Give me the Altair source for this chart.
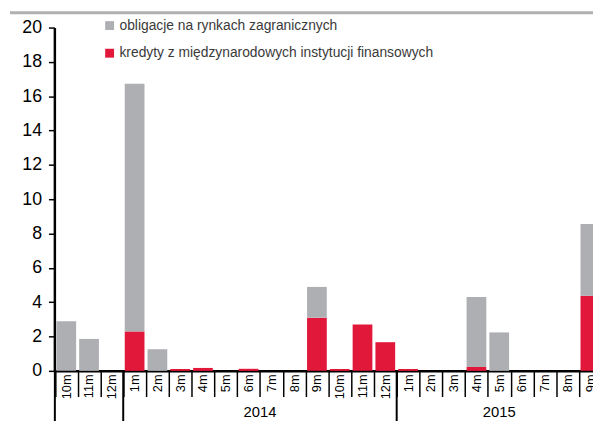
import altair as alt
import pandas as pd

# ---- data ----
months = ["10m", "11m", "12m",
          "1m", "2m", "3m", "4m", "5m", "6m", "7m", "8m", "9m", "10m", "11m", "12m",
          "1m", "2m", "3m", "4m", "5m", "6m", "7m", "8m", "9m"]
years = ["2013"] * 3 + ["2014"] * 12 + ["2015"] * 9
kredyty = [0, 0, 0,
           2.30, 0, 0.11, 0.17, 0, 0.12, 0, 0, 3.10, 0.11, 2.70, 1.67,
           0.11, 0, 0, 0.23, 0, 0, 0, 0, 4.37]
obligacje = [2.89, 1.86, 0,
             14.42, 1.26, 0, 0, 0, 0, 0, 0, 1.79, 0, 0, 0,
             0, 0, 0, 4.08, 2.24, 0, 0, 0, 4.19]
series_names = ["obligacje na rynkach zagranicznych",
                "kredyty z międzynarodowych instytucji finansowych"]
series_colors = ["#aeafb3", "#e2183a"]
year_labels = ["2014", "2015"]
y_ticks = list(range(0, 21, 2))

AXIS_FONT = "Liberation Sans Narrow, Arial Narrow, Liberation Sans, sans-serif"
TEXT_FONT = "Liberation Sans, Arial, sans-serif"

keys = [f"{m} {y}" for m, y in zip(months, years)]
rows = []
for k, o, c in zip(keys, obligacje, kredyty):
    rows.append({"key": k, "series": series_names[1], "value": c, "stk": 0})
    rows.append({"key": k, "series": series_names[0], "value": o, "stk": 1})
df = pd.DataFrame(rows)

# year groups
sep_keys = []
year_mid_int = []
year_mid_half = []
for yl in ["2013"] + year_labels:
    idx = [i for i, y in enumerate(years) if y == yl]
    s, e = idx[0], idx[-1] + 1
    sep_keys.append(keys[s])
    if yl in year_labels:
        mid2 = s + e
        if mid2 % 2 == 0:
            year_mid_int.append({"key": keys[mid2 // 2], "year": yl})
        else:
            year_mid_half.append({"key": keys[mid2 // 2], "year": yl})

STEP = 23.1
X0 = 0.5
PW, PH = 546, 348
TICK = 26

xscale = alt.Scale(domain=keys, range=[X0, X0 + STEP * len(keys)],
                   paddingInner=0, paddingOuter=0)
xaxis = alt.Axis(title=None, labelExpr="split(datum.label, ' ')[0]",
                 labelAngle=270, labelFontSize=13, labelFont=AXIS_FONT,
                 labelColor="#000", labelPadding=3 - TICK, labelOverlap=False,
                 ticks=True, tickBand="extent", tickSize=TICK, tickWidth=1.5,
                 tickColor="#000", domainColor="#000", domainWidth=2.5,
                 grid=False)
yaxis = alt.Axis(title=None, values=y_ticks, grid=False, ticks=True, tickSize=6,
                 tickWidth=1.5, tickColor="#000", domainColor="#000",
                 domainWidth=2.5, labelFontSize=18, labelFont=AXIS_FONT,
                 labelColor="#000", labelPadding=7)

bars = alt.Chart(df).mark_bar(width=20).encode(
    x=alt.X("key:N", scale=xscale, axis=xaxis, sort=keys),
    y=alt.Y("value:Q", stack="zero",
            scale=alt.Scale(domain=[0, 20], nice=False), axis=yaxis),
    color=alt.Color("series:N",
                    scale=alt.Scale(domain=series_names, range=series_colors),
                    legend=alt.Legend(title=None, orient="none", legendX=49,
                                      legendY=-9, symbolType="square",
                                      symbolSize=81, symbolStrokeWidth=0,
                                      labelFontSize=14, labelFont=TEXT_FONT,
                                      labelColor="#3a3a3a", rowPadding=14,
                                      labelOffset=3, labelLimit=0, padding=0)),
    order=alt.Order("stk:Q", sort="ascending"),
)

seps = alt.Chart(pd.DataFrame({"key": sep_keys})).mark_rule(
    color="#000", strokeWidth=2
).encode(
    x=alt.X("key:N", bandPosition=0, sort=keys),
    y=alt.value(PH),
    y2=alt.value(PH + 60),
)

txt_int = alt.Chart(pd.DataFrame(year_mid_int)).mark_text(
    font=AXIS_FONT, fontSize=15, color="#000", baseline="middle", align="center"
).encode(x=alt.X("key:N", bandPosition=0, sort=keys), y=alt.value(PH + 42),
         text="year:N")

txt_half = alt.Chart(pd.DataFrame(year_mid_half)).mark_text(
    font=AXIS_FONT, fontSize=15, color="#000", baseline="middle", align="center"
).encode(x=alt.X("key:N", bandPosition=0.5, sort=keys), y=alt.value(PH + 42),
         text="year:N")

top_line = alt.Chart(pd.DataFrame({"k": [0]})).mark_rule(
    color="#b0b0b0", strokeWidth=3
).encode(x=alt.value(-45), x2=alt.value(PW), y=alt.value(-15))

chart = alt.layer(bars, seps, txt_int, txt_half, top_line).properties(
    width=PW, height=PH,
    padding={"left": 47, "top": 17, "right": 0, "bottom": 48},
    autosize=alt.AutoSizeParams(type="none"),
    background="white",
).configure_view(strokeWidth=0)

chart.save("out.html", embed_options={"renderer": "svg", "actions": False})
